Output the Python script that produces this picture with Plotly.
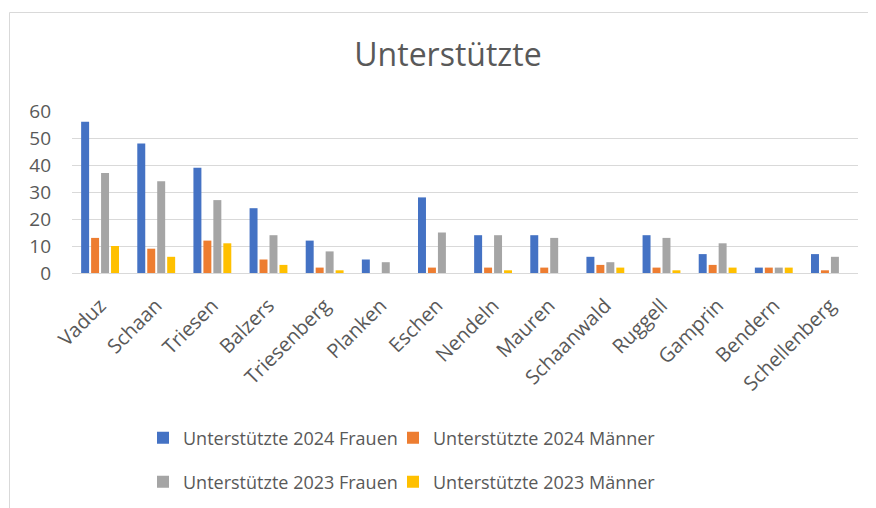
import plotly.graph_objects as go

categories = ["Vaduz", "Schaan", "Triesen", "Balzers", "Triesenberg", "Planken", "Eschen",
              "Nendeln", "Mauren", "Schaanwald", "Ruggell", "Gamprin", "Bendern", "Schellenberg"]
frauen_2024 = [56, 48, 39, 24, 12, 5, 28, 14, 14, 6, 14, 7, 2, 7]
maenner_2024 = [13, 9, 12, 5, 2, 0, 2, 2, 2, 3, 2, 3, 2, 1]
frauen_2023 = [37, 34, 27, 14, 8, 4, 15, 14, 13, 4, 13, 11, 2, 6]
maenner_2023 = [10, 6, 11, 3, 1, 0, 0, 1, 0, 2, 1, 2, 2, 0]
y_ticks = [0, 10, 20, 30, 40, 50, 60]

# page body has an 8px margin; figure sits at (8, 8) in the viewport
OFF = 8
W, H = 876 - OFF, 508 - OFF
L, R, T, B = 72 - OFF, 876 - 858, 111 - OFF, (H + OFF) - 273
pw, ph = W - L - R, H - T - B

def px_x(x):  # viewport x -> paper
    return (x - OFF - L) / pw

def px_y(y):  # viewport y -> paper
    return (H - B - (y - OFF)) / ph

def cx(x):  # viewport x -> container
    return (x - OFF) / W

def cy(y):  # viewport y -> container
    return 1 - (y - OFF) / H

series = [
    ("Unterstützte 2024 Frauen", frauen_2024, "#4472C4", "legend", 143, 438),
    ("Unterstützte 2024 Männer", maenner_2024, "#ED7D31", "legend2", 393, 438),
    ("Unterstützte 2023 Frauen", frauen_2023, "#A5A5A5", "legend3", 143, 482),
    ("Unterstützte 2023 Männer", maenner_2023, "#FFC000", "legend4", 393, 482),
]

FONT = "Open Sans, Liberation Sans, sans-serif"
TXT = "#595959"

fig = go.Figure()
legends = {}
for name, vals, color, lg, lx, ly in series:
    fig.add_trace(go.Bar(x=categories, y=vals, name=name, marker_color=color,
                         marker_line_width=0, legend=lg, showlegend=True))
    legends[lg] = dict(orientation="h", xref="container", yref="container",
                       x=cx(lx), y=cy(ly), xanchor="left", yanchor="middle",
                       font=dict(family=FONT, size=18, color=TXT),
                       bgcolor="rgba(0,0,0,0)", itemwidth=30, visible=True)

bx0, bx1 = px_x(9.5), px_x(1000)
by0, by1 = px_y(600), px_y(12.5)
border_path = f"M {bx0},{by0} L {bx0},{by1} L {bx1},{by1}"

fig.update_layout(
    width=W, height=H, showlegend=True,
    margin=dict(l=L, r=R, t=T, b=B, autoexpand=False),
    paper_bgcolor="white", plot_bgcolor="white",
    title=dict(text="Unterstützte", x=px_x(448), xref="paper", xanchor="center",
               y=cy(55), yanchor="middle",
               font=dict(family=FONT, size=32, color=TXT)),
    barmode="group", bargap=0.29, bargroupgap=0.2,
    xaxis=dict(tickangle=-45, tickfont=dict(family=FONT, size=20, color=TXT),
               showgrid=False, showline=True, linecolor="#d9d9d9", linewidth=1,
               ticks="", ticklabelstandoff=12),
    yaxis=dict(range=[0, 60], tickvals=y_ticks, showgrid=True, gridcolor="#d9d9d9",
               gridwidth=1, zeroline=False, tickfont=dict(family=FONT, size=19, color=TXT),
               ticks="", ticklabelstandoff=20),
    shapes=[dict(type="path", xref="paper", yref="paper", path=border_path,
                 line=dict(color="#d9d9d9", width=1), layer="below")],
    **legends,
)

fig.write_html("out.html")
